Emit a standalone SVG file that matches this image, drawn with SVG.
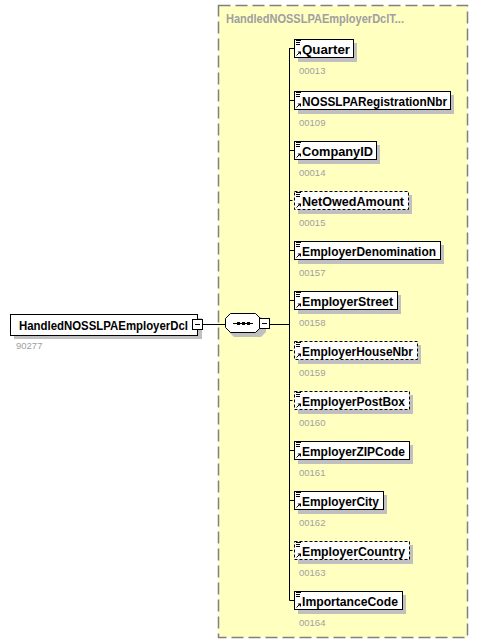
<svg xmlns="http://www.w3.org/2000/svg" width="488" height="644" viewBox="0 0 488 644">
<style>
.box{fill:#fff;stroke:#000;stroke-width:1}
.opt{fill:#fff;stroke:#000;stroke-width:1;stroke-dasharray:3,2}
.sh{fill:#c0c0c0}
.nm{font-family:"Liberation Sans",Arial,sans-serif;font-weight:bold;font-size:12.5px;fill:#000}
.id{font-family:"Liberation Sans",Arial,sans-serif;font-size:9.5px;fill:#a0a0a0}
.ln{stroke:#000;stroke-width:1;fill:none}
.dl{stroke:#000;stroke-width:1;fill:none;stroke-dasharray:3,2}
.ic{stroke:#000;stroke-width:1;fill:none}
</style>
<defs>
<g id="icons">
<path class="ic" d="M2 1.5h5M2 3.5h4M2 5.5h4"/>
<path class="ic" d="M2.5 16.5l3-3"/>
<path d="M3.5 12.5h3.5v3.5z" fill="#000"/>
</g>
</defs>
<rect x="218.5" y="5.5" width="249" height="632" fill="#ffffc0" stroke="#808080" stroke-width="1.5" stroke-dasharray="12,5"/>
<text x="226" y="23" font-family="Liberation Sans,Arial,sans-serif" font-weight="bold" font-size="12.5px" fill="#a0a0a0" textLength="178" lengthAdjust="spacingAndGlyphs">HandledNOSSLPAEmployerDclT...</text>

<g id="connectors">
<path class="ln" d="M203 324.5H226M270 324.5H289.5M289.5 48V600.5"/>
<path class="ln" d="M289.5 48.5H294M289.5 100.5H294M289.5 150.5H294M289.5 250.5H294M289.5 300.5H294M289.5 450.5H294M289.5 500.5H294M289.5 600.5H294"/>
<path class="dl" d="M289.5 200.5H294M289.5 350.5H294M289.5 400.5H294M289.5 550.5H294"/>
</g>

<g id="root">
<rect class="sh" x="14" y="318" width="188" height="21"/>
<rect class="box" x="10.5" y="314.5" width="187" height="21"/>
<text class="nm" x="19" y="329.5" textLength="169" lengthAdjust="spacingAndGlyphs">HandledNOSSLPAEmployerDcl</text>
<rect class="box" x="192.5" y="319.5" width="10" height="10"/>
<path class="ln" d="M195 324.5h5"/>
<text class="id" x="16" y="349">90277</text>
</g>

<g id="sequence">
<path class="sh" d="M234 317h27l5 5v10l-5 5h-27l-5-5v-10z"/>
<path class="box" d="M230.5 313.5h25l5 5v9l-5 5h-25l-5-5v-9z"/>
<path class="ln" d="M233 323.5h20"/>
<rect x="237" y="322" width="3" height="3" fill="#000"/>
<rect x="242" y="322" width="3" height="3" fill="#000"/>
<rect x="247" y="322" width="3" height="3" fill="#000"/>
<rect class="box" x="259.5" y="318.5" width="10" height="10"/>
<path class="ln" d="M262 323.5h5"/>
</g>

<g id="Quarter">
<rect class="sh" x="298" y="43" width="59" height="19"/>
<rect class="box" x="294.5" y="39.5" width="59" height="18"/>
<use href="#icons" x="294" y="39"/>
<text class="nm" x="302" y="53.5" textLength="48" lengthAdjust="spacingAndGlyphs">Quarter</text>
<text class="id" x="299" y="74">00013</text>
</g>
<g id="NOSSLPARegistrationNbr">
<rect class="sh" x="298" y="95" width="156" height="19"/>
<rect class="box" x="294.5" y="91.5" width="156" height="18"/>
<use href="#icons" x="294" y="91"/>
<text class="nm" x="302" y="105.5" textLength="145" lengthAdjust="spacingAndGlyphs">NOSSLPARegistrationNbr</text>
<text class="id" x="299" y="126">00109</text>
</g>
<g id="CompanyID">
<rect class="sh" x="298" y="145" width="82" height="19"/>
<rect class="box" x="294.5" y="141.5" width="82" height="18"/>
<use href="#icons" x="294" y="141"/>
<text class="nm" x="302" y="155.5" textLength="71" lengthAdjust="spacingAndGlyphs">CompanyID</text>
<text class="id" x="299" y="176">00014</text>
</g>
<g id="NetOwedAmount">
<rect class="sh" x="298" y="195" width="114" height="19"/>
<rect class="opt" x="294.5" y="191.5" width="114" height="18"/>
<use href="#icons" x="294" y="191"/>
<text class="nm" x="302" y="205.5" textLength="102" lengthAdjust="spacingAndGlyphs">NetOwedAmount</text>
<text class="id" x="299" y="226">00015</text>
</g>
<g id="EmployerDenomination">
<rect class="sh" x="298" y="245" width="146" height="19"/>
<rect class="box" x="294.5" y="241.5" width="146" height="18"/>
<use href="#icons" x="294" y="241"/>
<text class="nm" x="302" y="255.5" textLength="134" lengthAdjust="spacingAndGlyphs">EmployerDenomination</text>
<text class="id" x="299" y="276">00157</text>
</g>
<g id="EmployerStreet">
<rect class="sh" x="298" y="295" width="103" height="19"/>
<rect class="box" x="294.5" y="291.5" width="103" height="18"/>
<use href="#icons" x="294" y="291"/>
<text class="nm" x="302" y="305.5" textLength="91" lengthAdjust="spacingAndGlyphs">EmployerStreet</text>
<text class="id" x="299" y="326">00158</text>
</g>
<g id="EmployerHouseNbr">
<rect class="sh" x="298" y="345" width="123" height="19"/>
<rect class="opt" x="294.5" y="341.5" width="123" height="18"/>
<use href="#icons" x="294" y="341"/>
<text class="nm" x="302" y="355.5" textLength="111" lengthAdjust="spacingAndGlyphs">EmployerHouseNbr</text>
<text class="id" x="299" y="376">00159</text>
</g>
<g id="EmployerPostBox">
<rect class="sh" x="298" y="395" width="115" height="19"/>
<rect class="opt" x="294.5" y="391.5" width="115" height="18"/>
<use href="#icons" x="294" y="391"/>
<text class="nm" x="302" y="405.5" textLength="103" lengthAdjust="spacingAndGlyphs">EmployerPostBox</text>
<text class="id" x="299" y="426">00160</text>
</g>
<g id="EmployerZIPCode">
<rect class="sh" x="298" y="445" width="115" height="19"/>
<rect class="box" x="294.5" y="441.5" width="115" height="18"/>
<use href="#icons" x="294" y="441"/>
<text class="nm" x="302" y="455.5" textLength="103" lengthAdjust="spacingAndGlyphs">EmployerZIPCode</text>
<text class="id" x="299" y="476">00161</text>
</g>
<g id="EmployerCity">
<rect class="sh" x="298" y="495" width="89" height="19"/>
<rect class="box" x="294.5" y="491.5" width="89" height="18"/>
<use href="#icons" x="294" y="491"/>
<text class="nm" x="302" y="505.5" textLength="77" lengthAdjust="spacingAndGlyphs">EmployerCity</text>
<text class="id" x="299" y="526">00162</text>
</g>
<g id="EmployerCountry">
<rect class="sh" x="298" y="545" width="115" height="19"/>
<rect class="opt" x="294.5" y="541.5" width="115" height="18"/>
<use href="#icons" x="294" y="541"/>
<text class="nm" x="302" y="555.5" textLength="103" lengthAdjust="spacingAndGlyphs">EmployerCountry</text>
<text class="id" x="299" y="576">00163</text>
</g>
<g id="ImportanceCode">
<rect class="sh" x="298" y="595" width="108" height="19"/>
<rect class="box" x="294.5" y="591.5" width="108" height="18"/>
<use href="#icons" x="294" y="591"/>
<text class="nm" x="302" y="605.5" textLength="96" lengthAdjust="spacingAndGlyphs">ImportanceCode</text>
<text class="id" x="299" y="626">00164</text>
</g>
</svg>
